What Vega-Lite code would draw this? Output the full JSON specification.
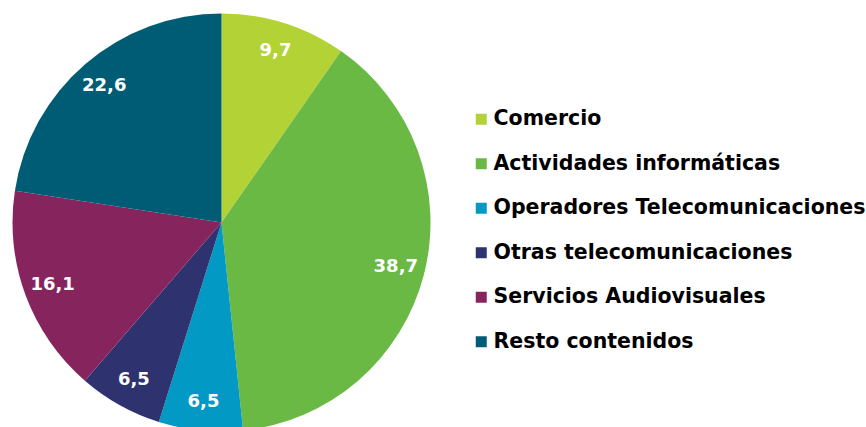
{
  "$schema": "https://vega.github.io/schema/vega-lite/v6.json",
  "width": 443,
  "height": 445,
  "autosize": {"type": "none"},
  "padding": {"left": 0, "top": 0, "right": 423, "bottom": 0},
  "background": "white",
  "config": {
    "view": {"stroke": null},
    "locale": {"number": {"decimal": ",", "thousands": ".", "grouping": [3], "currency": ["", " €"]}}
  },
  "data": {
    "values": [
      {"sector": "Comercio", "valor": 9.7, "orden": 1},
      {"sector": "Actividades informáticas", "valor": 38.7, "orden": 2},
      {"sector": "Operadores Telecomunicaciones", "valor": 6.5, "orden": 3},
      {"sector": "Otras telecomunicaciones", "valor": 6.5, "orden": 4},
      {"sector": "Servicios Audiovisuales", "valor": 16.1, "orden": 5},
      {"sector": "Resto contenidos", "valor": 22.6, "orden": 6}
    ]
  },
  "encoding": {
    "theta": {"field": "valor", "type": "quantitative", "stack": true},
    "order": {"field": "orden", "type": "quantitative", "sort": "ascending"},
    "color": {
      "field": "sector",
      "type": "nominal",
      "sort": null,
      "scale": {
        "domain": ["Comercio", "Actividades informáticas", "Operadores Telecomunicaciones", "Otras telecomunicaciones", "Servicios Audiovisuales", "Resto contenidos"],
        "range": ["#b2d235", "#6ab945", "#0399c5", "#2e3370", "#86245e", "#005c74"]
      },
      "legend": {
        "title": null,
        "orient": "none",
        "legendX": 471,
        "legendY": 109,
        "padding": 0,
        "symbolType": "square",
        "symbolSize": 121,
        "symbolStrokeWidth": 0,
        "symbolOpacity": 1,
        "labelFont": "DejaVu Sans",
        "labelFontWeight": "bold",
        "labelFontSize": 20.5,
        "labelColor": "#000000",
        "labelOffset": 2,
        "labelLimit": 500,
        "rowPadding": 23.5
      }
    }
  },
  "layer": [
    {"mark": {"type": "arc", "radius": 209}},
    {
      "mark": {"type": "text", "radius": 180, "font": "DejaVu Sans", "fontWeight": "bold", "fontSize": 18, "fill": "white", "baseline": "middle", "align": "center"},
      "encoding": {
        "text": {"field": "valor", "type": "quantitative", "format": ".1f"},
        "color": {"value": "white"}
      }
    }
  ]
}
